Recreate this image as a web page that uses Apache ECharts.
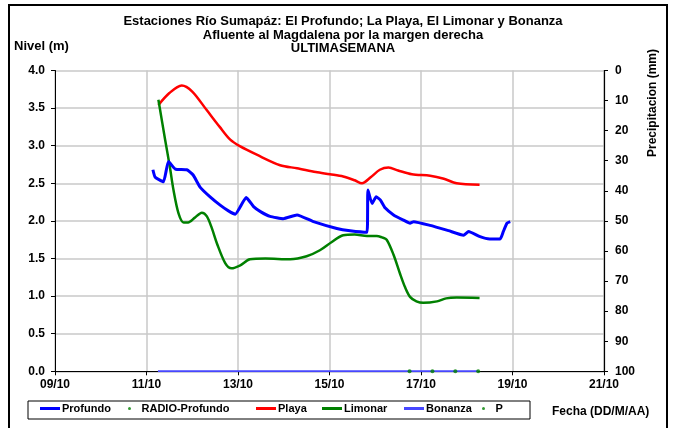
<!DOCTYPE html>
<html>
<head>
<meta charset="utf-8">
<script src="https://cdn.jsdelivr.net/npm/echarts@6/dist/echarts.min.js"></script>
<style>
  html, body { margin: 0; padding: 0; background: #fff; }
  #chart { width: 674px; height: 428px; }
</style>
</head>
<body>
<div id="chart"></div>
<script>
// dias de octubre (fraccion = hora del dia) y niveles en metros
const profundoDias = [11.14, 11.19, 11.37, 11.48, 11.63, 11.88, 12.02, 12.17, 12.39, 12.61, 12.8, 12.94, 13.18, 13.34, 13.5, 13.7, 13.99, 14.29, 14.65, 15.16, 15.45, 15.82, 15.84, 15.93, 16.02, 16.11, 16.22, 16.4, 16.62, 16.76, 16.84, 17.2, 17.6, 17.93, 18.04, 18.29, 18.5, 18.73, 18.8, 18.88, 18.95];
const profundoNivel = [2.68, 2.58, 2.52, 2.79, 2.69, 2.68, 2.61, 2.45, 2.32, 2.21, 2.13, 2.09, 2.31, 2.19, 2.12, 2.06, 2.03, 2.08, 1.99, 1.9, 1.87, 1.85, 2.41, 2.23, 2.32, 2.28, 2.17, 2.08, 2.01, 1.97, 1.99, 1.94, 1.87, 1.81, 1.86, 1.79, 1.76, 1.76, 1.86, 1.97, 1.99];

const playaDias = [11.26, 11.5, 11.77, 12.0, 12.32, 12.6, 12.83, 13.05, 13.41, 13.92, 14.29, 14.7, 15.01, 15.3, 15.55, 15.71, 15.9, 16.1, 16.29, 16.5, 16.8, 17.2, 17.5, 17.78, 18.28];
const playaNivel = [3.54, 3.7, 3.8, 3.72, 3.47, 3.25, 3.08, 2.99, 2.88, 2.74, 2.7, 2.65, 2.62, 2.59, 2.54, 2.5, 2.58, 2.68, 2.71, 2.67, 2.62, 2.6, 2.56, 2.5, 2.48];

const limonarDias = [11.26, 11.41, 11.51, 11.59, 11.7, 11.81, 11.91, 12.05, 12.21, 12.32, 12.43, 12.54, 12.72, 12.86, 13.05, 13.26, 13.6, 14.14, 14.5, 14.79, 15.05, 15.3, 15.55, 15.82, 16.03, 16.15, 16.25, 16.4, 16.54, 16.65, 16.76, 16.9, 17.05, 17.35, 17.55, 17.78, 18.28];
const limonarNivel = [3.61, 3.07, 2.72, 2.41, 2.1, 1.98, 1.98, 2.04, 2.11, 2.06, 1.9, 1.7, 1.44, 1.37, 1.41, 1.49, 1.5, 1.49, 1.53, 1.61, 1.72, 1.81, 1.82, 1.8, 1.8, 1.78, 1.75, 1.55, 1.3, 1.12, 0.99, 0.93, 0.91, 0.93, 0.97, 0.98, 0.975];

const bonanzaDias = [11.25, 18.25];
const bonanzaNivel = [0, 0];

const pDias = [16.75, 17.25, 17.75, 18.25];
const pValor = [0, 0, 0, 0];

const radioProfundo = [];

const tituloLineas = [
  "Estaciones Río Sumapáz: El Profundo; La Playa, El Limonar y Bonanza",
  "Afluente al Magdalena por la margen derecha",
  "ULTIMASEMANA"
];

const zip = (xs, ys) => xs.map((x, i) => [x, ys[i]]);
const FONT = '"Liberation Sans Narrow", "Liberation Sans", Arial, sans-serif';

let chart = echarts.init(document.getElementById("chart"));

const legendItems = [
  { name: "Profundo", left: 40, icon: "rect" },
  { name: "RADIO-Profundo", left: 128, icon: "circle" },
  { name: "Playa", left: 256, icon: "rect" },
  { name: "Limonar", left: 322, icon: "rect" },
  { name: "Bonanza", left: 404, icon: "rect" },
  { name: "P", left: 482, icon: "circle" }
];

let option = {
  backgroundColor: "#fff",
  animation: false,
  title: {
    text: tituloLineas.join("\n"),
    left: 338,
    top: 10,
    textAlign: "center",
    textStyle: { fontFamily: FONT, fontSize: 13, fontWeight: "bold", color: "#000", lineHeight: 13.5 }
  },
  legend: legendItems.map(it => ({
    data: [{ name: it.name, icon: it.icon }],
    left: it.left,
    top: 403,
    padding: 0,
    itemWidth: 20,
    itemHeight: 3,
    itemGap: 2,
    selectedMode: false,
    textStyle: { fontFamily: FONT, fontSize: 11, fontWeight: "bold", color: "#000", padding: [0, 0, 0, -3] }
  })),
  grid: { left: 55, right: 70, top: 70.5, bottom: 56.7, containLabel: false },
  xAxis: {
    type: "value",
    min: 9,
    max: 21,
    interval: 2,
    axisLine: { show: true, onZero: false, lineStyle: { color: "#000", width: 1 } },
    axisTick: { show: true, length: 4, lineStyle: { color: "#000" } },
    splitLine: { show: true, lineStyle: { color: "#c8c8c8", width: 1.5 } },
    axisLabel: {
      margin: 7,
      fontFamily: FONT, fontSize: 12, fontWeight: "bold", color: "#000",
      formatter: v => String(v).padStart(2, "0") + "/10"
    }
  },
  yAxis: [
    {
      type: "value",
      min: 0,
      max: 4,
      interval: 0.5,
      axisLine: { show: true, lineStyle: { color: "#000", width: 1 } },
      axisTick: { show: true, length: 4, lineStyle: { color: "#000" } },
      splitLine: { show: true, lineStyle: { color: "#c8c8c8", width: 1.5 } },
      axisLabel: {
        margin: 10,
        fontFamily: FONT, fontSize: 12, fontWeight: "bold", color: "#000",
        formatter: v => v.toFixed(1)
      }
    },
    {
      type: "value",
      min: 0,
      max: 100,
      interval: 10,
      inverse: true,
      position: "right",
      axisLine: { show: true, lineStyle: { color: "#000", width: 1.2 } },
      axisTick: { show: true, length: 4, inside: false, lineStyle: { color: "#000" } },
      splitLine: { show: false },
      axisLabel: { margin: 11, fontFamily: FONT, fontSize: 12, fontWeight: "bold", color: "#000" }
    }
  ],
  series: [
    {
      name: "Profundo",
      type: "line",
      data: zip(profundoDias, profundoNivel),
      showSymbol: false,
      smooth: 0.15,
      z: 5,
      color: "#0000ff",
      lineStyle: { color: "#0000ff", width: 3 }
    },
    {
      name: "RADIO-Profundo",
      type: "scatter",
      data: radioProfundo,
      symbolSize: 3,
      color: "#008000"
    },
    {
      name: "Playa",
      type: "line",
      data: zip(playaDias, playaNivel),
      showSymbol: false,
      smooth: 0.3,
      color: "#ff0000",
      lineStyle: { color: "#ff0000", width: 2.5 }
    },
    {
      name: "Limonar",
      type: "line",
      data: zip(limonarDias, limonarNivel),
      showSymbol: false,
      smooth: 0.3,
      color: "#008000",
      lineStyle: { color: "#008000", width: 2.5 }
    },
    {
      name: "Bonanza",
      type: "line",
      data: zip(bonanzaDias, bonanzaNivel),
      showSymbol: false,
      z: 4,
      color: "#4747ff",
      lineStyle: { color: "#4747ff", width: 2 }
    },
    {
      name: "P",
      type: "scatter",
      data: zip(pDias, pValor),
      symbolSize: 4,
      z: 6,
      color: "#008000"
    }
  ],
  graphic: [
    {
      type: "rect",
      shape: { x: 9, y: 5, width: 658, height: 430 },
      style: { fill: "none", stroke: "#000", lineWidth: 2 },
      silent: true
    },
    {
      type: "rect",
      shape: { x: 28, y: 401, width: 502, height: 18 },
      style: { fill: "none", stroke: "#000", lineWidth: 1 },
      silent: true
    },
    {
      type: "text",
      x: 14, y: 40,
      style: { text: "Nivel (m)", font: "bold 13px " + FONT, fill: "#000" }
    },
    {
      type: "text",
      x: 653, y: 103,
      rotation: Math.PI / 2,
      style: { text: "Precipitacion (mm)", font: "bold 12px " + FONT, fill: "#000", align: "center", verticalAlign: "middle" }
    },
    {
      type: "text",
      x: 552, y: 412,
      style: { text: "Fecha (DD/M/AA)", font: "bold 12px " + FONT, fill: "#000", verticalAlign: "middle" }
    }
  ]
};

chart.setOption(option);
</script>
</body>
</html>
